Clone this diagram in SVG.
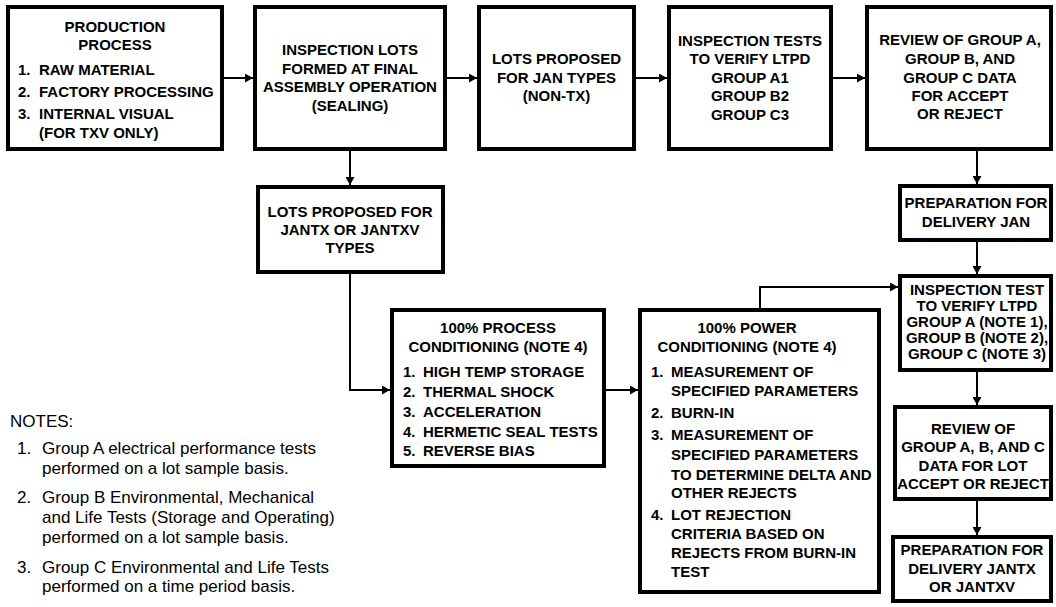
<svg xmlns="http://www.w3.org/2000/svg" width="1056" height="607" viewBox="0 0 1056 607">
<style>
.box{fill:#fff;stroke:#000;stroke-width:4}
.con{fill:none;stroke:#000;stroke-width:2}
.t{font-family:"Liberation Sans",Arial,Helvetica,sans-serif;font-weight:bold;font-size:15px;fill:#000}
.c{text-anchor:middle}
.n{font-family:"Liberation Sans",Arial,Helvetica,sans-serif;font-size:17px;fill:#000}
</style>
<defs>
<marker id="ah" markerUnits="userSpaceOnUse" markerWidth="9" markerHeight="9" refX="8" refY="4.5" orient="auto">
<path d="M0,0 L8,4.5 L0,9 z" fill="#000"/>
</marker>
</defs>
<rect width="1056" height="607" fill="#fff"/>

<g id="connectors">
<path class="con" d="M222,78 H253" marker-end="url(#ah)"/>
<path class="con" d="M445,78 H477" marker-end="url(#ah)"/>
<path class="con" d="M634,78 H667" marker-end="url(#ah)"/>
<path class="con" d="M831,78 H865" marker-end="url(#ah)"/>
<path class="con" d="M350,149 V185" marker-end="url(#ah)"/>
<path class="con" d="M350,272 V390 H390" marker-end="url(#ah)"/>
<path class="con" d="M604,390 H638" marker-end="url(#ah)"/>
<path class="con" d="M760,310 V287 H898" marker-end="url(#ah)"/>
<path class="con" d="M977,149 V184" marker-end="url(#ah)"/>
<path class="con" d="M977,240 V274" marker-end="url(#ah)"/>
<path class="con" d="M977,370 V405" marker-end="url(#ah)"/>
<path class="con" d="M977,499 V535" marker-end="url(#ah)"/>
</g>

<g id="production">
<rect class="box" x="8" y="7" width="214" height="142"/>
<text class="t c" x="115" y="31.5">PRODUCTION</text>
<text class="t c" x="115" y="50">PROCESS</text>
<text class="t" y="75"><tspan x="18">1.</tspan><tspan x="39">RAW MATERIAL</tspan></text>
<text class="t" y="96.5"><tspan x="18">2.</tspan><tspan x="39">FACTORY PROCESSING</tspan></text>
<text class="t" y="119"><tspan x="18">3.</tspan><tspan x="39">INTERNAL VISUAL</tspan></text>
<text class="t" x="39" y="137.5">(FOR TXV ONLY)</text>
</g>

<g id="inspection-lots">
<rect class="box" x="255" y="7" width="190" height="142"/>
<text class="t c" x="350" y="55">INSPECTION LOTS</text>
<text class="t c" x="350" y="73.5">FORMED AT FINAL</text>
<text class="t c" x="350" y="92">ASSEMBLY OPERATION</text>
<text class="t c" x="350" y="110.5">(SEALING)</text>
</g>

<g id="lots-jan">
<rect class="box" x="479" y="7" width="155" height="142"/>
<text class="t c" x="556.5" y="64">LOTS PROPOSED</text>
<text class="t c" x="556.5" y="82.5">FOR JAN TYPES</text>
<text class="t c" x="556.5" y="101">(NON-TX)</text>
</g>

<g id="inspection-tests">
<rect class="box" x="669" y="7" width="162" height="142"/>
<text class="t c" x="750" y="45.5">INSPECTION TESTS</text>
<text class="t c" x="750" y="64">TO VERIFY LTPD</text>
<text class="t c" x="750" y="82.5">GROUP A1</text>
<text class="t c" x="750" y="101">GROUP B2</text>
<text class="t c" x="750" y="119.5">GROUP C3</text>
</g>

<g id="review-abc">
<rect class="box" x="867" y="7" width="184" height="142"/>
<text class="t c" x="960" y="45">REVIEW OF GROUP A,</text>
<text class="t c" x="960" y="64">GROUP B, AND</text>
<text class="t c" x="960" y="82.5">GROUP C DATA</text>
<text class="t c" x="960" y="101">FOR ACCEPT</text>
<text class="t c" x="960" y="119">OR REJECT</text>
</g>

<g id="prep-jan">
<rect class="box" x="900" y="186" width="151" height="54"/>
<text class="t c" x="976" y="208">PREPARATION FOR</text>
<text class="t c" x="976" y="226.5">DELIVERY JAN</text>
</g>

<g id="lots-jantx">
<rect class="box" x="258" y="187" width="185" height="85"/>
<text class="t c" x="350" y="216.5">LOTS PROPOSED FOR</text>
<text class="t c" x="350" y="235">JANTX OR JANTXV</text>
<text class="t c" x="350" y="253">TYPES</text>
</g>

<g id="process-conditioning">
<rect class="box" x="392" y="310" width="212" height="156"/>
<text class="t c" x="498" y="333">100% PROCESS</text>
<text class="t c" x="498" y="352">CONDITIONING (NOTE 4)</text>
<text class="t" y="376.5"><tspan x="403">1.</tspan><tspan x="423">HIGH TEMP STORAGE</tspan></text>
<text class="t" y="396.5"><tspan x="403">2.</tspan><tspan x="423">THERMAL SHOCK</tspan></text>
<text class="t" y="416.5"><tspan x="403">3.</tspan><tspan x="423">ACCELERATION</tspan></text>
<text class="t" y="436.5"><tspan x="403">4.</tspan><tspan x="423">HERMETIC SEAL TESTS</tspan></text>
<text class="t" y="456"><tspan x="403">5.</tspan><tspan x="423">REVERSE BIAS</tspan></text>
</g>

<g id="power-conditioning">
<rect class="box" x="640" y="310" width="239" height="282"/>
<text class="t c" x="747" y="333">100% POWER</text>
<text class="t c" x="747" y="352">CONDITIONING (NOTE 4)</text>
<text class="t" y="377"><tspan x="651">1.</tspan><tspan x="671">MEASUREMENT OF</tspan></text>
<text class="t" x="671" y="395.5">SPECIFIED PARAMETERS</text>
<text class="t" y="417.5"><tspan x="651">2.</tspan><tspan x="671">BURN-IN</tspan></text>
<text class="t" y="440"><tspan x="651">3.</tspan><tspan x="671">MEASUREMENT OF</tspan></text>
<text class="t" x="671" y="459.5">SPECIFIED PARAMETERS</text>
<text class="t" x="671" y="479.5">TO DETERMINE DELTA AND</text>
<text class="t" x="671" y="498">OTHER REJECTS</text>
<text class="t" y="520"><tspan x="651">4.</tspan><tspan x="671">LOT REJECTION</tspan></text>
<text class="t" x="671" y="538.5">CRITERIA BASED ON</text>
<text class="t" x="671" y="558">REJECTS FROM BURN-IN</text>
<text class="t" x="671" y="577">TEST</text>
</g>

<g id="inspection-test-ltpd">
<rect class="box" x="900" y="276" width="151" height="94"/>
<text class="t c" x="977" y="295">INSPECTION TEST</text>
<text class="t c" x="977" y="311">TO VERIFY LTPD</text>
<text class="t c" x="977" y="327">GROUP A (NOTE 1),</text>
<text class="t c" x="977" y="343">GROUP B (NOTE 2),</text>
<text class="t c" x="977" y="359">GROUP C (NOTE 3)</text>
</g>

<g id="review-lot">
<rect class="box" x="895" y="407" width="156" height="92"/>
<text class="t c" x="973" y="433.5">REVIEW OF</text>
<text class="t c" x="973" y="452">GROUP A, B, AND C</text>
<text class="t c" x="973" y="470.5">DATA FOR LOT</text>
<text class="t c" x="973" y="489">ACCEPT OR REJECT</text>
</g>

<g id="prep-jantx">
<rect class="box" x="893" y="537" width="158" height="64"/>
<text class="t c" x="972" y="555">PREPARATION FOR</text>
<text class="t c" x="972" y="573.5">DELIVERY JANTX</text>
<text class="t c" x="972" y="592">OR JANTXV</text>
</g>

<g id="notes">
<text class="n" x="10" y="427">NOTES:</text>
<text class="n" y="454"><tspan x="17">1.</tspan><tspan x="42">Group A electrical performance tests</tspan></text>
<text class="n" x="42" y="473.5">performed on a lot sample basis.</text>
<text class="n" y="503"><tspan x="17">2.</tspan><tspan x="42">Group B Environmental, Mechanical</tspan></text>
<text class="n" x="42" y="523">and Life Tests (Storage and Operating)</text>
<text class="n" x="42" y="542.5">performed on a lot sample basis.</text>
<text class="n" y="572.5"><tspan x="17">3.</tspan><tspan x="42">Group C Environmental and Life Tests</tspan></text>
<text class="n" x="42" y="592">performed on a time period basis.</text>
</g>
</svg>
